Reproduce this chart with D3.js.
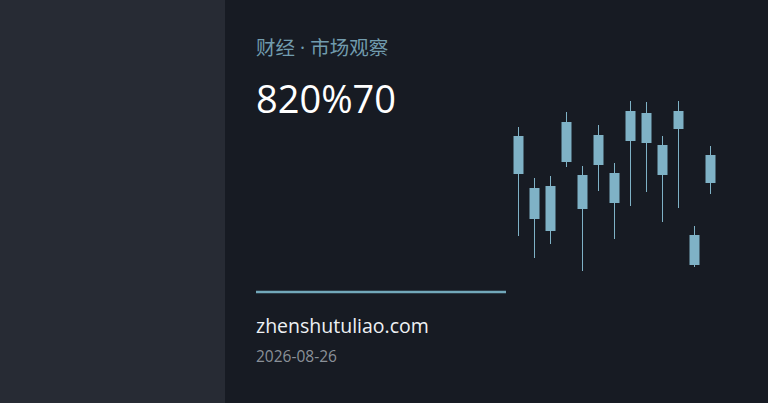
<!DOCTYPE html>
<html>
<head>
<meta charset="utf-8">
<script src="https://cdn.jsdelivr.net/npm/d3@7"></script>
<style>
  html, body { margin: 0; padding: 0; background: #171b23; }
  svg { display: block; }
</style>
</head>
<body>
<div id="wrapper"></div>
<script>
// candle values (arbitrary price units)
const days   = d3.range(13);
const highs  = [153, 102, 104, 168, 114, 155, 117, 179, 178, 144, 179,  54, 134];
const opens  = [144,  92,  94, 158, 105, 145, 107, 169, 167, 135, 169,  45, 125];
const closes = [106,  61,  49, 118,  71, 115,  77, 139, 137, 105, 151,  15,  97];
const lows   = [ 44,  22,  36, 113,   9,  89,  41,  74,  88,  58,  72,  13,  86];

const kicker = "财经 · 市场观察";
const headline = "820%70";
const site = "zhenshutuliao.com";
const dateLabel = "2026-08-26";

function drawCard() {
    const width = 768;
    const height = 403;

    const svg = d3.select("#wrapper")
        .append("svg")
        .attr("width", width)
        .attr("height", height);

    svg.append("rect")
        .attr("width", width)
        .attr("height", height)
        .attr("fill", "#171b23");

    // left side panel
    svg.append("rect")
        .attr("width", 225)
        .attr("height", height)
        .attr("fill", "#272b34");

    const font = "'Open Sans', 'Noto Sans', 'Noto Sans CJK SC', sans-serif";

    svg.append("text")
        .attr("x", 256)
        .attr("y", 55)
        .style("font-family", font)
        .style("font-size", "19.5px")
        .attr("fill", "#719cae")
        .text(kicker);

    svg.append("text")
        .attr("x", 256)
        .attr("y", 113)
        .style("font-family", font)
        .style("font-size", "38px")
        .attr("fill", "#ffffff")
        .text(headline);

    svg.append("line")
        .attr("x1", 256)
        .attr("x2", 506)
        .attr("y1", 292)
        .attr("y2", 292)
        .attr("stroke", "#72a8ba")
        .attr("stroke-width", 2.5);

    svg.append("text")
        .attr("x", 256)
        .attr("y", 333)
        .style("font-family", font)
        .style("font-size", "19.5px")
        .attr("fill", "#eef1f4")
        .text(site);

    svg.append("text")
        .attr("x", 256)
        .attr("y", 361.5)
        .style("font-family", font)
        .style("font-size", "15.5px")
        .attr("fill", "#8a9098")
        .text(dateLabel);

    // candlesticks
    const xScale = d3.scaleBand()
        .domain(days)
        .range([510.5, 718.5])
        .paddingInner(0.375)
        .paddingOuter(0.1875);
    const yScale = d3.scaleLinear().domain([0, 180]).range([280, 100]);

    const candles = svg.append("g")
        .selectAll("g")
        .data(days)
        .enter()
        .append("g");

    candles.append("line")
        .attr("x1", d => xScale(d) + xScale.bandwidth() / 2)
        .attr("x2", d => xScale(d) + xScale.bandwidth() / 2)
        .attr("y1", d => yScale(highs[d]))
        .attr("y2", d => yScale(lows[d]))
        .attr("stroke", "#7fb2c6")
        .attr("stroke-width", 1);

    candles.append("rect")
        .attr("x", d => xScale(d))
        .attr("y", d => yScale(Math.max(opens[d], closes[d])))
        .attr("width", xScale.bandwidth())
        .attr("height", d => Math.abs(yScale(opens[d]) - yScale(closes[d])))
        .attr("fill", "#7fb2c6");
}

drawCard();
</script>
</body>
</html>
